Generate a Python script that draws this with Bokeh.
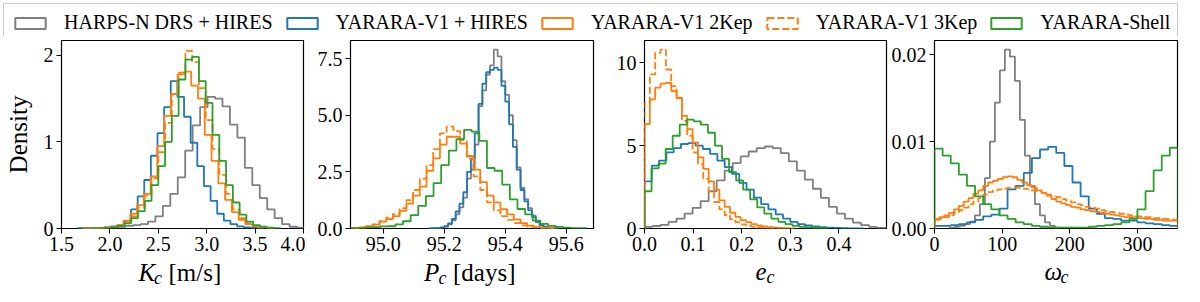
from bokeh.plotting import figure
from bokeh.layouts import row, column
from bokeh.models import (FixedTicker, PrintfTickFormatter, Legend, LegendItem, Range1d)
from bokeh.core.properties import value
from bokeh.embed import file_html
from bokeh.resources import INLINE

# ---------------- data (density histograms) ----------------
labels = ["HARPS-N DRS + HIRES", "YARARA-V1 + HIRES", "YARARA-V1 2Kep",
          "YARARA-V1 3Kep", "YARARA-Shell"]
colors = ["#7f7f7f", "#1f77b4", "#ff7f0e", "#ff7f0e", "#2ca02c"]
dashes = ["solid", "solid", "solid", "7 3", "solid"]

# each histogram: bin start, bin width, densities
K_gray_bins = (1.70, 0.077)
K_gray = [0.0, 0.0, 0.005, 0.01, 0.01, 0.02, 0.03, 0.04, 0.05, 0.08, 0.14, 0.26, 0.40, 0.59,
          0.90, 1.19, 1.40, 1.52, 1.50, 1.41, 1.20, 1.05, 0.70, 0.50, 0.35, 0.22, 0.12, 0.05,
          0.02, 0.01]
K_blue_bins = (1.67, 0.0685)
K_blue = [0.003, 0.003, 0.005, 0.007, 0.012, 0.02, 0.04, 0.08, 0.22, 0.37, 0.56, 0.84, 1.10,
          1.40, 1.70, 1.52, 1.29, 0.99, 0.72, 0.49, 0.32, 0.17, 0.09, 0.05, 0.025, 0.012,
          0.006, 0.003]
K_or2_bins = (1.72, 0.07)
K_or2 = [0.002, 0.003, 0.006, 0.01, 0.02, 0.04, 0.09, 0.17, 0.27, 0.40, 0.60, 0.95, 1.30,
         1.55, 1.78, 1.81, 1.65, 1.50, 1.08, 0.78, 0.52, 0.33, 0.19, 0.10, 0.05, 0.025,
         0.012, 0.006]
K_or3_bins = (1.73, 0.07)
K_or3 = [0.002, 0.003, 0.005, 0.01, 0.02, 0.04, 0.08, 0.14, 0.24, 0.38, 0.58, 0.88, 1.22,
         1.55, 1.80, 2.05, 1.92, 1.62, 1.25, 0.92, 0.62, 0.40, 0.22, 0.12, 0.06, 0.03,
         0.015, 0.007]
K_green_bins = (1.73, 0.07)
K_green = [0.002, 0.003, 0.005, 0.008, 0.015, 0.03, 0.06, 0.12, 0.20, 0.32, 0.50, 0.72,
           1.00, 1.30, 1.72, 1.95, 1.98, 1.70, 1.45, 1.08, 0.78, 0.50, 0.30, 0.16, 0.08,
           0.04, 0.02, 0.01, 0.005]

P_gray_bins = (95.15, 0.0125)
P_gray = [0.005, 0.01, 0.02, 0.04, 0.08, 0.18, 0.36, 0.62, 0.93, 1.36, 2.2, 2.6, 3.7, 5.4,
          6.1, 6.8, 7.2, 7.9, 7.6, 6.5, 5.9, 5.0, 3.9, 2.7, 1.8, 1.3, 0.9, 0.57, 0.32, 0.16,
          0.08, 0.04, 0.02, 0.01]
P_blue_bins = (95.15, 0.0125)
P_blue = [0.005, 0.01, 0.02, 0.05, 0.10, 0.22, 0.42, 0.75, 1.10, 1.60, 2.5, 3.1, 4.2, 5.5,
          6.4, 6.9, 7.0, 7.1, 7.0, 6.3, 5.6, 4.6, 3.6, 2.6, 1.7, 1.2, 0.8, 0.5, 0.28, 0.14,
          0.07, 0.03, 0.015, 0.008]
P_or2_bins = (94.90, 0.022)
P_or2 = [0.03, 0.05, 0.10, 0.17, 0.30, 0.42, 0.55, 0.78, 1.10, 1.45, 1.85, 2.55, 3.10, 3.70,
         4.05, 4.05, 3.75, 3.20, 2.60, 2.05, 1.45, 1.15, 0.85, 0.62, 0.40, 0.24, 0.13, 0.07,
         0.03, 0.015]
P_or3_bins = (94.90, 0.022)
P_or3 = [0.02, 0.05, 0.10, 0.18, 0.32, 0.48, 0.65, 0.90, 1.25, 1.70, 2.20, 2.80, 3.50, 4.20,
         4.50, 4.30, 3.90, 3.10, 2.30, 1.70, 1.15, 0.80, 0.55, 0.38, 0.24, 0.14, 0.08, 0.04,
         0.02, 0.01]
P_green_bins = (94.89, 0.025)
P_green = [0.01, 0.02, 0.04, 0.06, 0.09, 0.10, 0.18, 0.32, 0.59, 1.0, 1.43, 2.0, 2.8, 3.44,
           3.95, 4.35, 4.28, 3.87, 2.67, 2.55, 1.94, 1.29, 0.86, 0.62, 0.35, 0.20, 0.12,
           0.07, 0.04, 0.02, 0.01]

e_gray_bins = (0.0, 0.0165)
e_gray = [0.10, 0.15, 0.22, 0.40, 0.60, 0.90, 1.25, 1.65, 2.25, 2.90, 3.50, 3.95, 4.35, 4.65,
          4.85, 4.95, 4.85, 4.55, 4.05, 3.50, 2.95, 2.40, 1.85, 1.30, 0.90, 0.60, 0.35,
          0.20, 0.10, 0.04]
e_blue_bins = (0.0, 0.015)
e_blue = [2.84, 3.8, 4.1, 4.6, 4.85, 5.1, 5.15, 5.0, 4.8, 4.5, 4.1, 3.7, 3.3, 2.75, 2.35,
          1.86, 1.47, 1.15, 0.85, 0.6, 0.4, 0.27, 0.18, 0.12, 0.08, 0.05, 0.03, 0.02, 0.01,
          0.005]
e_or2_bins = (0.0, 0.011)
e_or2 = [6.3, 7.8, 8.5, 8.75, 8.8, 8.3, 7.85, 6.8, 6.0, 5.2, 4.3, 3.6, 2.85, 2.35, 1.7, 1.3,
         0.95, 0.70, 0.50, 0.38, 0.26, 0.18, 0.12, 0.08, 0.05, 0.03, 0.02, 0.01]
e_or3_bins = (0.0, 0.011)
e_or3 = [7.6, 9.3, 10.6, 10.8, 9.6, 8.6, 7.9, 6.5, 5.6, 4.6, 3.9, 3.0, 2.2, 1.6, 1.15, 0.8,
         0.55, 0.38, 0.25, 0.16, 0.10, 0.06, 0.04, 0.02, 0.01]
e_green_bins = (0.0, 0.0145)
e_green = [2.25, 3.63, 3.92, 4.80, 5.60, 6.27, 6.57, 6.47, 6.27, 5.78, 5.00, 4.20, 3.40,
           2.90, 2.35, 1.76, 1.27, 0.90, 0.60, 0.40, 0.26, 0.16, 0.10, 0.06, 0.03, 0.015]

w_gray_bins = (22.7, 7.4)
w_gray = [0.0001, 0.0002, 0.0003, 0.0005, 0.0008, 0.0015, 0.0028, 0.0058, 0.0100, 0.0145,
          0.0182, 0.0206, 0.0198, 0.0170, 0.0125, 0.0084, 0.0049, 0.0028, 0.0015, 0.0007,
          0.0003, 0.0001]
w_blue_bins = (0.0, 12.0)
w_blue = [0.0003, 0.0003, 0.0004, 0.0005, 0.0007, 0.0010, 0.0014, 0.0016, 0.0023, 0.0045,
          0.0049, 0.0064, 0.0081, 0.0091, 0.0094, 0.0087, 0.0072, 0.0053, 0.0037, 0.0023,
          0.0017, 0.0012, 0.0011, 0.0009, 0.0009, 0.0007, 0.0006, 0.0005, 0.0004, 0.0003]
w_or2_bins = (0.0, 7.2)
w_or2 = [0.0011, 0.0013, 0.0015, 0.0018, 0.0022, 0.0026, 0.0031, 0.0035, 0.0040, 0.0044,
         0.0049, 0.0053, 0.0055, 0.0057, 0.0059, 0.0060, 0.0059, 0.0056, 0.0053, 0.0050,
         0.0047, 0.0044, 0.0041, 0.0038, 0.0034, 0.0031, 0.0029, 0.0027, 0.0025, 0.0024,
         0.0022, 0.0021, 0.0020, 0.0019, 0.0018, 0.0017, 0.0016, 0.0015, 0.0014, 0.0013,
         0.0013, 0.0012, 0.0012, 0.0011, 0.0011, 0.0010, 0.0010, 0.0009, 0.0009, 0.0009]
w_or3_bins = (0.0, 7.2)
w_or3 = [0.0010, 0.0011, 0.0013, 0.0015, 0.0018, 0.0021, 0.0024, 0.0028, 0.0031, 0.0035,
         0.0039, 0.0042, 0.0044, 0.0045, 0.0046, 0.0047, 0.0047, 0.0047, 0.0046, 0.0045,
         0.0044, 0.0043, 0.0041, 0.0039, 0.0037, 0.0036, 0.0034, 0.0032, 0.0030, 0.0028,
         0.0027, 0.0025, 0.0024, 0.0023, 0.0021, 0.0020, 0.0019, 0.0018, 0.0017, 0.0016,
         0.0015, 0.0014, 0.0014, 0.0013, 0.0013, 0.0012, 0.0012, 0.0011, 0.0011, 0.0010]
w_green_bins = (0.0, 12.0)
w_green = [0.0092, 0.0084, 0.0075, 0.0062, 0.0049, 0.0037, 0.0028, 0.0022, 0.0015, 0.0011,
           0.0007, 0.0005, 0.0003, 0.0002, 0.0001, 0.0001, 0.0001, 0.0001, 0.0001, 0.0002,
           0.0003, 0.0004, 0.0005, 0.0007, 0.0011, 0.0022, 0.0043, 0.0067, 0.0084, 0.0093]

# axis settings
K_xlim, K_ylim, K_xticks, K_yticks = (1.5, 4.0), (0, 2.17), [1.5, 2.0, 2.5, 3.0, 3.5, 4.0], [0, 1, 2]
P_xlim, P_ylim, P_xticks, P_yticks = (94.893, 95.689), (0, 8.3), [95.0, 95.2, 95.4, 95.6], [0.0, 2.5, 5.0, 7.5]
e_xlim, e_ylim, e_xticks, e_yticks = (0.0, 0.498), (0, 11.35), [0.0, 0.1, 0.2, 0.3, 0.4], [0, 5, 10]
w_xlim, w_ylim, w_xticks, w_yticks = (0.0, 359.3), (0, 0.02165), [0, 100, 200, 300], [0.0, 0.01, 0.02]

FONT = "Liberation Serif"
FRAME_H = 188


def step_xy(bins, vals):
    start, width = bins
    edges = [start + width * i for i in range(len(vals) + 1)]
    xs, ys = [edges[0]], [0.0]
    for i, v in enumerate(vals):
        xs += [edges[i], edges[i + 1]]
        ys += [v, v]
    xs.append(edges[-1])
    ys.append(0.0)
    return xs, ys


def make_panel(series, xlim, ylim, xticks, yticks, xfmt, yfmt, fw, bl, br):
    p = figure(frame_width=fw, frame_height=FRAME_H, x_range=Range1d(*xlim),
               y_range=Range1d(*ylim), min_border_left=bl, min_border_right=br,
               min_border_top=4, min_border_bottom=31,
               title=None, toolbar_location=None, output_backend="svg")
    p.grid.visible = False
    p.outline_line_color = "black"
    p.outline_line_width = 1.2
    p.outline_line_alpha = 1
    for ax, ticks, fmt in ((p.xaxis[0], xticks, xfmt), (p.yaxis[0], yticks, yfmt)):
        ax.ticker = FixedTicker(ticks=ticks)
        ax.formatter = PrintfTickFormatter(format=fmt)
        ax.axis_line_color = None
        ax.major_tick_out = 5
        ax.major_tick_in = 0
        ax.minor_tick_out = 0
        ax.minor_tick_in = 0
        ax.major_tick_line_color = "black"
        ax.major_label_text_font = FONT
        ax.major_label_text_font_size = "20px"
        ax.major_label_text_color = "black"
        ax.major_label_standoff = 3
    for (bins, vals), c, d in zip(series, colors, dashes):
        xs, ys = step_xy(bins, vals)
        p.line(xs, ys, line_color=c, line_width=1.8, line_dash=d)
    return p


p1 = make_panel([(K_gray_bins, K_gray), (K_blue_bins, K_blue), (K_or2_bins, K_or2),
                 (K_or3_bins, K_or3), (K_green_bins, K_green)],
                K_xlim, K_ylim, K_xticks, K_yticks, "%.1f", "%d", 242, 61, 2)
p1.yaxis[0].axis_label = "Density"
p1.yaxis[0].axis_label_text_font = FONT
p1.yaxis[0].axis_label_text_font_size = "25px"
p1.yaxis[0].axis_label_text_font_style = "normal"
p1.yaxis[0].axis_label_text_color = "black"
p1.yaxis[0].axis_label_standoff = 9

p2 = make_panel([(P_gray_bins, P_gray), (P_blue_bins, P_blue), (P_or2_bins, P_or2),
                 (P_or3_bins, P_or3), (P_green_bins, P_green)],
                P_xlim, P_ylim, P_xticks, P_yticks, "%.1f", "%.1f", 243, 45, 2)

p3 = make_panel([(e_gray_bins, e_gray), (e_blue_bins, e_blue), (e_or2_bins, e_or2),
                 (e_or3_bins, e_or3), (e_green_bins, e_green)],
                e_xlim, e_ylim, e_xticks, e_yticks, "%.1f", "%d", 242, 49, 2)

p4 = make_panel([(w_gray_bins, w_gray), (w_blue_bins, w_blue), (w_or2_bins, w_or2),
                 (w_or3_bins, w_or3), (w_green_bins, w_green)],
                w_xlim, w_ylim, w_xticks, w_yticks, "%d", "%.2f", 243, 46, 7)

# ---------------- x-axis labels strip (layout pixel coordinates) ----------------
xl = figure(width=1184, height=27, x_range=Range1d(0, 1184), y_range=Range1d(286, 259),
            x_axis_type=None, y_axis_type=None, title=None, min_border=0,
            toolbar_location=None, output_backend="svg")
xl.grid.visible = False
xl.outline_line_color = None


def lab(x, y, t, size, italic):
    xl.text(x=[x], y=[y], text=[t], text_font=value(FONT), text_font_size=size,
            text_font_style="italic" if italic else "normal", text_color="black",
            text_baseline="alphabetic", text_align="left")


lab(138.0, 271.5, "K", "25px", True)
lab(153.5, 277.0, "c", "18px", True)
lab(168.0, 271.5, "[m/s]", "25px", False)
lab(423.5, 271.5, "P", "25px", True)
lab(438.0, 277.0, "c", "18px", True)
lab(452.5, 271.5, "[days]", "25px", False)
lab(755.0, 271.0, "e", "25px", True)
lab(766.0, 276.0, "c", "18px", True)
lab(1044.0, 271.0, "ω", "25px", True)
lab(1060.0, 276.0, "c", "18px", True)

# ---------------- legend strip ----------------
lg = figure(width=1184, height=36, x_range=(0, 1), y_range=(0, 1),
            x_axis_type=None, y_axis_type=None, title=None, min_border=0,
            toolbar_location=None, output_backend="svg")
lg.grid.visible = False
lg.outline_line_color = None
items = []
for name, c, d in zip(labels, colors, dashes):
    # proxy patches outside the visible range: only their legend swatches are seen
    r = lg.quad(left=[5], right=[6], top=[6], bottom=[5], fill_alpha=0, line_color=c,
                line_width=2, line_dash=d)
    items.append(LegendItem(label=name, renderers=[r]))
leg = Legend(items=items, orientation="horizontal", location="top_left", margin=3,
             padding=7, spacing=10, glyph_width=38, glyph_height=14, label_standoff=15,
             label_height=18, label_text_font=FONT, label_text_font_size="20px",
             label_text_color="black",
             border_line_color="#cccccc", border_line_width=1, border_line_alpha=1,
             background_fill_color="white", background_fill_alpha=1)
lg.add_layout(leg, "center")

layout = column(lg, row(p1, p2, p3, p4), xl)

open("out.html", "w").write(file_html(layout, INLINE))
